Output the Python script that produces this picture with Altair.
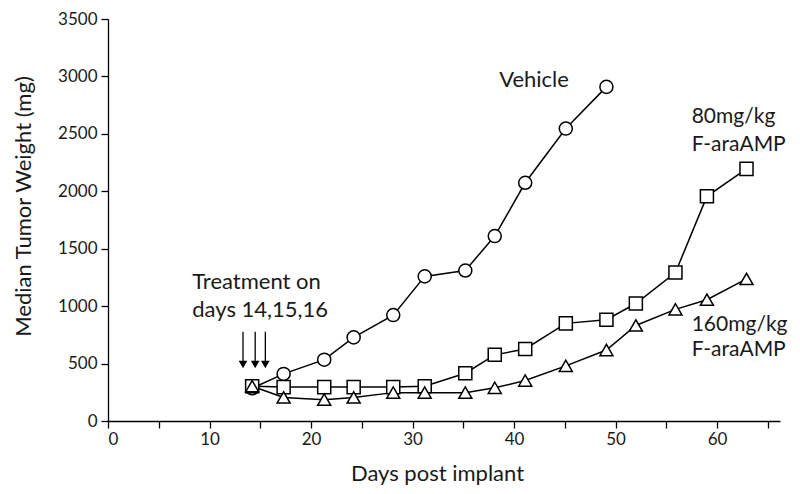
import altair as alt
import pandas as pd

# ---- data ----
days = [14.2, 17.3, 21.3, 24.2, 28.1, 31.2, 35.2, 38.1, 41.1, 45.1, 49.1, 52.0, 55.9, 59.0, 62.9]
vehicle = [285, 410, 534, 728, 922, 1259, 1310, 1610, 2074, 2546, 2909]
mg80 = [303, 295, 295, 295, 295, 303, 416, 576, 627, 850, 882, 1023, 1292, 1956, 2195]
mg160 = [303, 205, 186, 205, 247, 247, 247, 289, 352, 480, 618, 832, 972, 1056, 1237]
series_names = ["Vehicle", "80mg/kg F-araAMP", "160mg/kg F-araAMP"]

arrow_days = [13.3, 14.5, 15.5]
arrow_top = [776] * 3
arrow_tip = [493] * 3

center_text = ["Vehicle"]
center_x = [41.97]
center_y = [2909]

left_text = ["Treatment on", "days 14,15,16"]
left_x = [8.3, 8.3]
left_y = [1147, 902]

right_text = ["80mg/kg", "F-araAMP", "160mg/kg", "F-araAMP"]
right_x = [57.5, 57.5, 57.5, 57.5]
right_y = [2597, 2352, 784, 565]

x_ticks = list(range(0, 66, 5))
y_ticks = list(range(0, 3501, 500))

rows = []
for name, vals in zip(series_names, [vehicle, mg80, mg160]):
    for d, v in zip(days, vals):
        rows.append({"series": name, "day": d, "mg": v})
df = pd.DataFrame(rows)

arrows = pd.DataFrame({"day": arrow_days, "top": arrow_top, "tip": arrow_tip})
ctext = pd.DataFrame({"t": center_text, "x": center_x, "y": center_y})
ltext = pd.DataFrame({"t": left_text, "x": left_x, "y": left_y})
rtext = pd.DataFrame({"t": right_text, "x": right_x, "y": right_y})

FONT = "Lato"
INK = "#1a1a1a"

xscale = alt.Scale(domain=[0, 66.2], nice=False, zero=False)
yscale = alt.Scale(domain=[0, 3500], nice=False)

xenc = alt.X(
    "day:Q", scale=xscale,
    axis=alt.Axis(
        title="Days post implant", values=x_ticks,
        labelExpr="datum.value % 10 == 0 ? datum.label : ''",
        grid=False, tickSize=7, labelPadding=3,
        titleX=329, titleY=59, titleBaseline="alphabetic", titleAlign="center",
    ),
)
yenc = alt.Y(
    "mg:Q", scale=yscale,
    axis=alt.Axis(
        title="Median Tumor Weight (mg)", values=y_ticks, format="d",
        grid=False, tickSize=7, labelPadding=4,
        titleX=-85, titleY=187, titleAngle=-90, titleBaseline="middle", titleAlign="center",
    ),
)

lines = alt.Chart(df).mark_line(color="black", strokeWidth=1.5).encode(
    x=xenc, y=yenc, detail="series:N", order="day:Q"
)

points = alt.Chart(df).mark_point(
    filled=True, fill="white", stroke="black", strokeWidth=1.5, size=170, opacity=1
).encode(
    x=alt.X("day:Q", scale=xscale),
    y=alt.Y("mg:Q", scale=yscale),
    shape=alt.Shape("series:N",
                    scale=alt.Scale(domain=series_names, range=["circle", "square", "triangle-up"]),
                    legend=None),
    order=alt.Order("series_order:Q"),
).transform_calculate(
    series_order="indexof(['Vehicle','80mg/kg F-araAMP','160mg/kg F-araAMP'], datum.series)"
)

arrow_lines = alt.Chart(arrows).mark_rule(color="black", strokeWidth=1.3).encode(
    x=alt.X("day:Q", scale=xscale), y=alt.Y("top:Q", scale=yscale), y2="tip:Q"
)
arrow_heads = alt.Chart(arrows).mark_point(
    shape="triangle-down", filled=True, color="black", size=75, opacity=1
).encode(x=alt.X("day:Q", scale=xscale), y=alt.Y("tip:Q", scale=yscale))

t_center = alt.Chart(ctext).mark_text(
    font=FONT, fontSize=22, color=INK, align="center", baseline="alphabetic"
).encode(x=alt.X("x:Q", scale=xscale), y=alt.Y("y:Q", scale=yscale), text="t:N")

t_left = alt.Chart(ltext).mark_text(
    font=FONT, fontSize=22, color=INK, align="left", baseline="alphabetic"
).encode(x=alt.X("x:Q", scale=xscale), y=alt.Y("y:Q", scale=yscale), text="t:N")

t_right = alt.Chart(rtext).mark_text(
    font=FONT, fontSize=21, color=INK, align="left", baseline="alphabetic"
).encode(x=alt.X("x:Q", scale=xscale), y=alt.Y("y:Q", scale=yscale), text="t:N")

chart = alt.layer(lines, arrow_lines, arrow_heads, points, t_center, t_left, t_right).properties(
    width=672, height=402,
    autosize=alt.AutoSizeParams(type="none"),
    padding={"left": 100, "top": 11, "right": 12, "bottom": 65},
).configure_view(stroke=None).configure_axis(
    labelFont=FONT, labelFontSize=17, labelColor=INK,
    titleFont=FONT, titleFontSize=22, titleColor=INK, titleFontWeight="normal",
    domainColor="black", tickColor="black", domainWidth=1.3, tickWidth=1.3,
)

chart.save("out.html", embed_options={"renderer": "svg", "actions": False})
